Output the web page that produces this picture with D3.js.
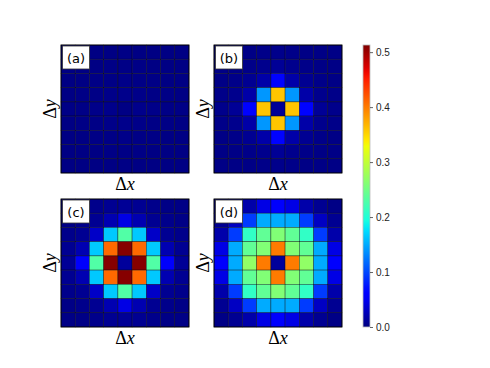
<!DOCTYPE html>
<html>
<head>
<meta charset="utf-8">
<script src="https://cdn.jsdelivr.net/npm/d3@7"></script>
<style>
  body { margin: 0; background: #fff; }
</style>
</head>
<body>
<script>
var panelLabels = ["(a)", "(b)", "(c)", "(d)"];
var cbTicks = [0.0, 0.1, 0.2, 0.3, 0.4, 0.5];
var vmax = 0.513;

var gridA = [
  [0.002,0.002,0.002,0.002,0.003,0.002,0.002,0.002,0.002],
  [0.002,0.002,0.002,0.003,0.003,0.003,0.002,0.002,0.002],
  [0.002,0.002,0.003,0.003,0.004,0.003,0.003,0.002,0.002],
  [0.002,0.003,0.003,0.004,0.005,0.004,0.003,0.003,0.002],
  [0.003,0.003,0.004,0.005,0.002,0.005,0.004,0.003,0.003],
  [0.002,0.003,0.003,0.004,0.005,0.004,0.003,0.003,0.002],
  [0.002,0.002,0.003,0.003,0.004,0.003,0.003,0.002,0.002],
  [0.002,0.002,0.002,0.003,0.003,0.003,0.002,0.002,0.002],
  [0.002,0.002,0.002,0.002,0.003,0.002,0.002,0.002,0.002]
];
var gridB = [
  [0.003,0.003,0.003,0.004,0.005,0.004,0.003,0.003,0.003],
  [0.003,0.003,0.004,0.006,0.010,0.006,0.004,0.003,0.003],
  [0.003,0.004,0.008,0.018,0.065,0.018,0.008,0.004,0.003],
  [0.004,0.006,0.018,0.140,0.360,0.140,0.018,0.006,0.004],
  [0.005,0.010,0.065,0.360,0.010,0.360,0.065,0.010,0.005],
  [0.004,0.006,0.018,0.140,0.360,0.140,0.018,0.006,0.004],
  [0.003,0.004,0.008,0.018,0.065,0.018,0.008,0.004,0.003],
  [0.003,0.003,0.004,0.006,0.010,0.006,0.004,0.003,0.003],
  [0.003,0.003,0.003,0.004,0.005,0.004,0.003,0.003,0.003]
];
var gridC = [
  [0.003,0.003,0.005,0.008,0.010,0.008,0.005,0.003,0.003],
  [0.003,0.005,0.008,0.022,0.045,0.022,0.008,0.005,0.003],
  [0.005,0.008,0.032,0.165,0.230,0.165,0.032,0.008,0.005],
  [0.008,0.022,0.165,0.410,0.510,0.410,0.165,0.022,0.008],
  [0.010,0.055,0.230,0.510,0.012,0.510,0.230,0.055,0.010],
  [0.008,0.022,0.165,0.410,0.510,0.410,0.165,0.022,0.008],
  [0.005,0.008,0.032,0.165,0.230,0.165,0.032,0.008,0.005],
  [0.003,0.005,0.008,0.022,0.045,0.022,0.008,0.005,0.003],
  [0.003,0.003,0.005,0.008,0.010,0.008,0.005,0.003,0.003]
];
var gridD = [
  [0.003,0.008,0.019,0.045,0.056,0.045,0.019,0.008,0.003],
  [0.008,0.030,0.094,0.150,0.150,0.150,0.094,0.030,0.008],
  [0.019,0.094,0.210,0.240,0.260,0.240,0.210,0.094,0.019],
  [0.045,0.150,0.240,0.260,0.400,0.260,0.240,0.150,0.045],
  [0.056,0.150,0.270,0.400,0.012,0.400,0.270,0.150,0.056],
  [0.045,0.150,0.240,0.260,0.400,0.260,0.240,0.150,0.045],
  [0.019,0.094,0.210,0.240,0.260,0.240,0.210,0.094,0.019],
  [0.008,0.030,0.094,0.150,0.150,0.150,0.094,0.030,0.008],
  [0.003,0.008,0.019,0.045,0.056,0.045,0.019,0.008,0.003]
];
var grids = [gridA, gridB, gridC, gridD];

var serif = "'Liberation Serif', 'Times New Roman', serif";
var width = 490, height = 368;
var svg = d3.select("body").append("svg").attr("width", width).attr("height", height);

// matplotlib jet
var jr = d3.scaleLinear().domain([0, 0.35, 0.66, 0.89, 1]).range([0, 0, 1, 1, 0.5]).clamp(true);
var jg = d3.scaleLinear().domain([0, 0.125, 0.375, 0.64, 0.91, 1]).range([0, 0, 1, 1, 0, 0]).clamp(true);
var jb = d3.scaleLinear().domain([0, 0.11, 0.34, 0.65, 1]).range([0.5, 1, 1, 0, 0]).clamp(true);
function jet(t) {
  return d3.rgb(jr(t) * 255, jg(t) * 255, jb(t) * 255).toString();
}
var color = d3.scaleSequential(jet).domain([0, vmax]);

var size = 128;
var origins = [[61, 45], [214, 45], [61, 199], [214, 199]];
var idx = d3.range(9);

grids.forEach(function(grid, p) {
  var ox = origins[p][0], oy = origins[p][1];
  var x = d3.scaleBand().domain(idx).range([ox, ox + size]);
  var y = d3.scaleBand().domain(idx).range([oy, oy + size]);
  var g = svg.append("g");
  var cells = [];
  grid.forEach(function(row, r) {
    row.forEach(function(v, c) { cells.push({r: r, c: c, v: v}); });
  });
  g.selectAll("rect.cell")
    .data(cells)
    .enter()
    .append("rect")
    .attr("class", "cell")
    .attr("x", function(d) { return x(d.c); })
    .attr("y", function(d) { return y(d.r); })
    .attr("width", x.bandwidth())
    .attr("height", y.bandwidth())
    .attr("fill", function(d) { return color(d.v); })
    .attr("stroke", "rgba(0,0,0,0.6)")
    .attr("stroke-width", 0.6);

  g.append("rect")
    .attr("x", ox).attr("y", oy).attr("width", size).attr("height", size)
    .attr("fill", "none").attr("stroke", "#000").attr("stroke-width", 0.8);

  // panel label box
  g.append("rect")
    .attr("x", ox + 1.5).attr("y", oy + 1)
    .attr("width", 27).attr("height", 23)
    .attr("fill", "#fff").attr("stroke", "#333").attr("stroke-width", 0.8);
  g.append("text")
    .attr("x", ox + 15).attr("y", oy + 17.5)
    .attr("text-anchor", "middle")
    .attr("font-family", "'DejaVu Sans', sans-serif")
    .attr("font-size", 13)
    .text(panelLabels[p]);

  // axis labels
  var xl = g.append("text")
    .attr("x", ox + size / 2).attr("y", oy + size + 17)
    .attr("text-anchor", "middle")
    .attr("font-family", serif)
    .attr("font-size", 18);
  xl.append("tspan").text("Δ");
  xl.append("tspan").attr("font-style", "italic").text("x");

  var yl = g.append("text")
    .attr("transform", "translate(" + (ox - 5) + "," + (oy + size / 2) + ") rotate(-90)")
    .attr("text-anchor", "middle")
    .attr("font-family", serif)
    .attr("font-size", 18);
  yl.append("tspan").text("Δ");
  yl.append("tspan").attr("font-style", "italic").text("y");
});

// colorbar
var cbX = 363, cbW = 7, cbTop = 45, cbBot = 327;
var cbScale = d3.scaleLinear().domain([0, vmax]).range([cbBot, cbTop]);
var defs = svg.append("defs");
var grad = defs.append("linearGradient").attr("id", "jetgrad")
  .attr("x1", 0).attr("y1", 1).attr("x2", 0).attr("y2", 0);
d3.range(0, 1.0001, 0.02).forEach(function(t) {
  grad.append("stop").attr("offset", t).attr("stop-color", jet(t));
});
svg.append("rect")
  .attr("x", cbX).attr("y", cbTop).attr("width", cbW).attr("height", cbBot - cbTop)
  .attr("fill", "url(#jetgrad)")
  .attr("stroke", "#bbb").attr("stroke-width", 0.8);

var cbAxis = d3.axisRight(cbScale)
  .tickValues(cbTicks)
  .tickFormat(d3.format(".1f"))
  .tickSize(3)
  .tickPadding(3);
var ag = svg.append("g")
  .attr("transform", "translate(" + (cbX + cbW) + ",0)")
  .attr("font-family", serif)
  .attr("font-size", 10)
  .call(cbAxis);
ag.select(".domain").remove();
ag.selectAll("text").attr("fill", "#222");
ag.selectAll("line").attr("stroke", "#222").attr("stroke-width", 0.7);
</script>
</body>
</html>
